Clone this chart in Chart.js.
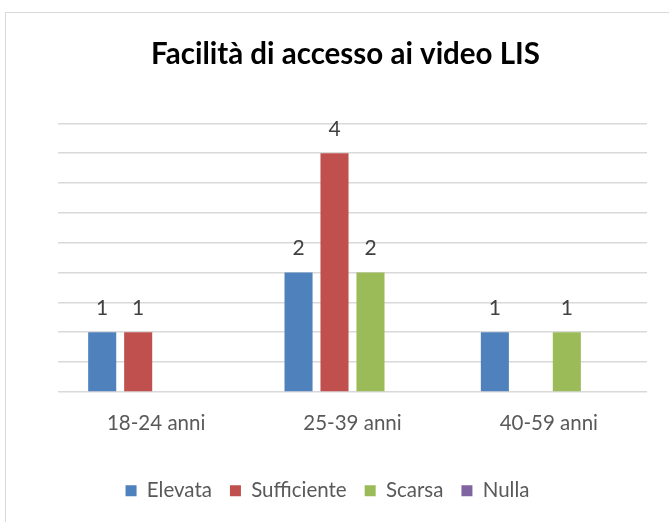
<!DOCTYPE html>
<html>
<head>
<meta charset="utf-8">
<script src="https://cdn.jsdelivr.net/npm/chart.js@4"></script>
<style>
  body { margin: 0; background: #fff; }
  #frame { position: absolute; left: 5px; top: 12px; width: 700px; height: 520px; border: 1px solid #d9d9d9; }
  #wrap { position: absolute; left: 0; top: 0; width: 669px; height: 522px; }
</style>
</head>
<body>
<div id="frame"></div>
<div id="wrap"><canvas id="myChart"></canvas></div>
<script>
var categories = ['18-24 anni', '25-39 anni', '40-59 anni'];
var seriesNames = ['Elevata', 'Sufficiente', 'Scarsa', 'Nulla'];
var elevata = [1, 2, 1];
var sufficiente = [1, 4, null];
var scarsa = [null, 2, 1];
var nulla = [null, null, null];
var colors = ['#4f81bd', '#c0504d', '#9bbb59', '#8064a2'];

var fontFamily = 'Lato, sans-serif';

// draws the value above each bar
var valueLabels = {
    id: 'valueLabels',
    afterLayout: function (chart) {
        // title sits a bit right of the plot centre
        if (chart.titleBlock) {
            chart.titleBlock.left += 18;
            chart.titleBlock.right += 18;
        }
    },
    afterDatasetsDraw: function (chart) {
        var ctx = chart.ctx;
        ctx.save();
        ctx.font = '21px ' + fontFamily;
        ctx.fillStyle = '#404040';
        ctx.textAlign = 'center';
        ctx.textBaseline = 'middle';
        chart.data.datasets.forEach(function (ds, i) {
            var meta = chart.getDatasetMeta(i);
            meta.data.forEach(function (bar, j) {
                if (ds.data[j] == null) return;
                ctx.fillText(ds.data[j], bar.x, bar.y - 24);
            });
        });
        ctx.restore();
    }
};

var ctx = document.getElementById('myChart').getContext('2d');
var myChart = new Chart(ctx, {
    type: 'bar',
    data: {
        labels: categories,
        datasets: [
            { label: seriesNames[0], data: elevata, backgroundColor: colors[0] },
            { label: seriesNames[1], data: sufficiente, backgroundColor: colors[1] },
            { label: seriesNames[2], data: scarsa, backgroundColor: colors[2] },
            { label: seriesNames[3], data: nulla, backgroundColor: colors[3] }
        ]
    },
    options: {
        responsive: true,
        maintainAspectRatio: false,
        animation: false,
        datasets: {
            bar: { categoryPercentage: 0.733, barPercentage: 0.78 }
        },
        layout: {
            padding: { left: 8, right: 22, top: 0, bottom: 11 }
        },
        plugins: {
            title: {
                display: true,
                text: 'Facilità di accesso ai video LIS',
                color: '#000',
                font: { family: fontFamily, size: 29.5, weight: 'bold' },
                padding: { top: 37, bottom: 51 }
            },
            legend: {
                position: 'bottom',
                labels: {
                    color: '#595959',
                    font: { family: fontFamily, size: 20.5 },
                    boxWidth: 11,
                    boxHeight: 11,
                    padding: 18
                }
            },
            tooltip: { enabled: false }
        },
        scales: {
            x: {
                grid: { display: false },
                border: { display: false },
                ticks: {
                    color: '#595959',
                    font: { family: fontFamily, size: 20.5 },
                    padding: 11
                },
                afterFit: function (scale) { scale.height += 16; }
            },
            y: {
                min: 0,
                max: 4.5,
                ticks: { display: false, stepSize: 0.5 },
                grid: { color: '#d9d9d9', lineWidth: 1.5, drawTicks: false },
                border: { display: false },
                afterFit: function (scale) { scale.width = 50; }
            }
        }
    },
    plugins: [valueLabels]
});
</script>
</body>
</html>
